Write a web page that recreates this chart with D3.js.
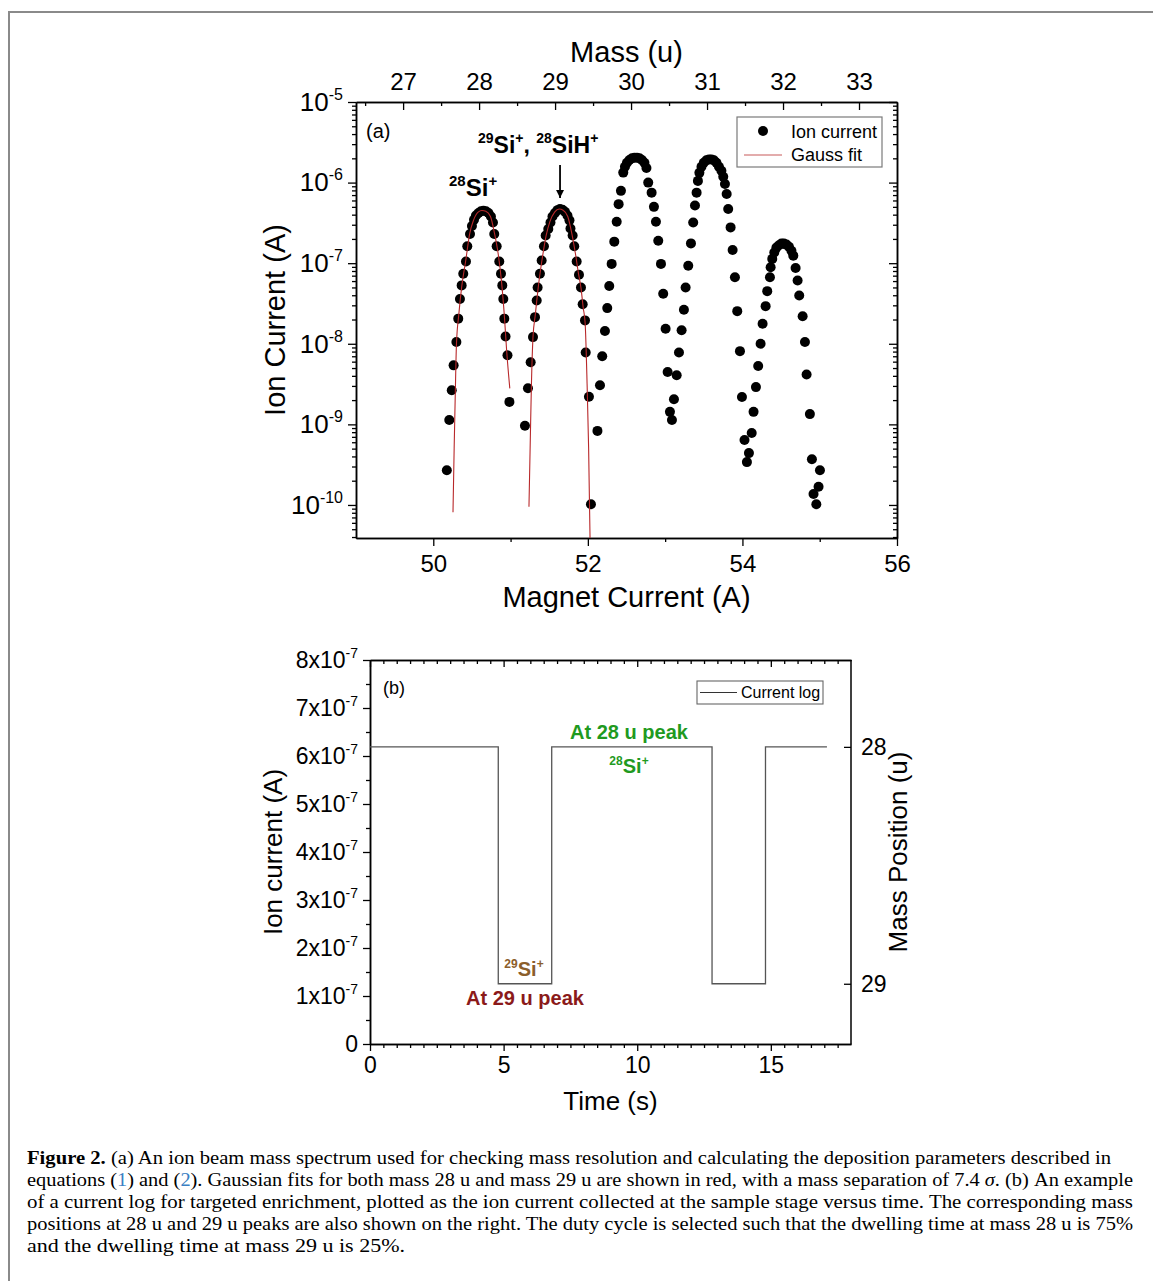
<!DOCTYPE html>
<html>
<head>
<meta charset="utf-8">
<script src="https://cdn.jsdelivr.net/npm/d3@7"></script>
<style>
body { margin: 0; background: #fff; }
svg text { font-family: "Liberation Sans", Arial, sans-serif; fill: #000; }
</style>
</head>
<body>
<div id="fig"></div>
<script>
// ---- panel (a) data: [magnet current (A), ion current (A)] ----
var peak28Si = [
  [50.175,2.7e-10],[50.207,1.13e-9],[50.239,2.65e-9],[50.263,5.4e-9],[50.299,1.05e-8],[50.323,2.05e-8],
  [50.345,3.6e-8],[50.367,5.3e-8],[50.388,7.4e-8],[50.423,1.05e-7],[50.44,1.62e-7],[50.475,2.3e-7],
  [50.50,2.9e-7],[50.527,3.45e-7],[50.552,3.9e-7],[50.585,4.2e-7],[50.617,4.4e-7],[50.649,4.48e-7],
  [50.682,4.4e-7],[50.714,4.2e-7],[50.746,3.8e-7],[50.772,3.2e-7],
  [50.789,2.3e-7],[50.82,1.62e-7],[50.854,1.05e-7],[50.876,7.4e-8],[50.893,5.3e-8],[50.906,3.6e-8],
  [50.919,2.05e-8],[50.935,1.23e-8],[50.96,7.2e-9],[50.985,1.9e-9]
];
var peak29Si = [
  [51.186,9.6e-10],[51.225,2.8e-9],[51.26,5.9e-9],[51.29,1.21e-8],[51.316,2.14e-8],[51.338,3.44e-8],
  [51.35,5.0e-8],[51.38,7.4e-8],[51.402,1.08e-7],[51.432,1.62e-7],[51.454,2.2e-7],[51.488,2.66e-7],
  [51.516,3.2e-7],[51.542,3.8e-7],[51.574,4.2e-7],[51.607,4.55e-7],[51.639,4.7e-7],[51.672,4.6e-7],
  [51.704,4.35e-7],[51.736,3.9e-7],[51.762,3.4e-7],
  [51.775,2.7e-7],[51.803,2.2e-7],[51.824,1.62e-7],[51.855,1.05e-7],[51.885,7.2e-8],[51.911,5.0e-8],
  [51.933,3.1e-8],[51.963,1.95e-8],[51.972,7.8e-9],[52.014,2.2e-9],[52.04,1.02e-10]
];
var peak30 = [
  [52.124,8.3e-10],[52.157,3.05e-9],[52.186,7.0e-9],[52.221,1.44e-8],[52.251,2.77e-8],[52.277,5.2e-8],
  [52.308,9.8e-8],[52.342,1.85e-7],[52.373,3.27e-7],[52.398,5.4e-7],[52.428,7.9e-7],[52.458,1.33e-6],
  [52.48,1.57e-6],[52.506,1.76e-6],[52.538,1.91e-6],[52.571,2.0e-6],[52.603,2.03e-6],[52.636,2.03e-6],
  [52.668,2.0e-6],[52.70,1.91e-6],[52.732,1.76e-6],[52.758,1.52e-6],
  [52.781,1.0e-6],[52.825,7.5e-7],[52.855,5.0e-7],[52.881,3.27e-7],[52.911,1.9e-7],[52.946,9.8e-8],
  [52.975,4.17e-8],[53.006,1.54e-8],[53.032,4.47e-9],[53.062,1.43e-9],[53.088,1.13e-9]
];
var peak31 = [
  [53.114,2.05e-9],[53.149,4.07e-9],[53.179,7.8e-9],[53.213,1.47e-8],[53.243,2.64e-8],[53.265,5.0e-8],
  [53.299,9.3e-8],[53.334,1.76e-7],[53.363,3.2e-7],[53.386,5.2e-7],[53.407,7.5e-7],[53.424,1.05e-6],
  [53.443,1.32e-6],[53.47,1.57e-6],[53.50,1.76e-6],[53.534,1.89e-6],[53.567,1.94e-6],[53.599,1.94e-6],
  [53.631,1.89e-6],[53.664,1.76e-6],[53.696,1.57e-6],[53.728,1.4e-6],
  [53.752,1.18e-6],[53.774,9.6e-7],[53.796,7.2e-7],[53.816,4.7e-7],[53.847,2.78e-7],[53.873,1.46e-7],
  [53.903,6.7e-8],[53.933,2.54e-8],[53.968,8.1e-9],[53.994,2.19e-9],[54.027,6.4e-10],[54.058,3.4e-10]
];
var peak32 = [
  [54.084,4.4e-10],[54.12,7.8e-10],[54.144,1.43e-9],[54.175,2.9e-9],[54.204,5.3e-9],[54.235,1.0e-8],
  [54.261,1.77e-8],[54.30,2.93e-8],[54.321,4.5e-8],[54.356,6.7e-8],[54.365,8.9e-8],[54.386,1.13e-7],
  [54.412,1.36e-7],[54.44,1.56e-7],[54.473,1.67e-7],[54.505,1.75e-7],[54.537,1.75e-7],[54.57,1.7e-7],
  [54.602,1.6e-7],[54.634,1.43e-7],
  [54.658,1.24e-7],[54.688,8.7e-8],[54.714,6.1e-8],[54.735,3.97e-8],[54.779,2.2e-8],[54.809,1.05e-8],
  [54.83,4.15e-9],[54.873,1.34e-9],[54.899,3.7e-10],[55.003,2.7e-10],[54.985,1.68e-10],[54.92,1.37e-10],
  [54.956,1.02e-10]
];
// Gauss fit curves
var fit28 = [
  [50.255,8.1e-11],[50.27,5e-10],[50.285,2.5e-9],[50.30,1.0e-8],[50.33,2.3e-8],[50.37,5.3e-8],
  [50.42,1.08e-7],[50.47,2.3e-7],[50.52,3.4e-7],[50.58,4.3e-7],[50.63,4.5e-7],[50.68,4.4e-7],
  [50.74,3.8e-7],[50.79,2.4e-7],[50.84,1.3e-7],[50.88,6.3e-8],[50.92,2.2e-8],[50.95,8e-9],[50.99,2.8e-9]
];
var fit29 = [
  [51.238,9.5e-11],[51.255,6.3e-10],[51.27,3.2e-9],[51.29,1.2e-8],[51.32,2.3e-8],[51.36,5.2e-8],
  [51.41,1.15e-7],[51.46,2.2e-7],[51.51,3.3e-7],[51.57,4.3e-7],[51.63,4.7e-7],[51.68,4.55e-7],
  [51.74,3.8e-7],[51.79,2.4e-7],[51.84,1.3e-7],[51.88,7.3e-8],[51.91,5e-8],[51.94,2.8e-8],
  [51.965,1.8e-8],[51.99,3.2e-9],[52.01,5e-10],[52.03,3e-11]
];
var massTicks = [27, 28, 29, 30, 31, 32, 33];
var massMinor = [26.5, 27.5, 28.5, 29.5, 30.5, 31.5, 32.5];
var currentTicks = [50, 52, 54, 56];
var currentMinor = [51, 53, 55];
var decades = [1e-10, 1e-9, 1e-8, 1e-7, 1e-6, 1e-5];
var decadeExp = ["-10", "-9", "-8", "-7", "-6", "-5"];

// ---- panel (b) data ----
var logTime = [0, 4.8, 6.8, 12.8, 14.8, 17.1];
var logCurrent = [6.19e-7, 1.255e-7, 6.19e-7, 1.255e-7, 6.19e-7, 6.19e-7];
var ionTicks = [0, 1e-7, 2e-7, 3e-7, 4e-7, 5e-7, 6e-7, 7e-7, 8e-7];
var ionTickMant = ["0", "1", "2", "3", "4", "5", "6", "7", "8"];
var ionMinor = [0.5e-7, 1.5e-7, 2.5e-7, 3.5e-7, 4.5e-7, 5.5e-7, 6.5e-7, 7.5e-7];
var timeTicks = [0, 5, 10, 15];
var timeMinor = [0.5,1,1.5,2,2.5,3,3.5,4,4.5,5.5,6,6.5,7,7.5,8,8.5,9,9.5,10.5,11,11.5,12,12.5,13,13.5,14,14.5,15.5,16,16.5,17,17.5];
var massLevels = [28, 29];

var W = 1153, H = 1281;
var svg = d3.select("#fig").append("svg").attr("width", W).attr("height", H);

// page frame
svg.append("path").attr("d", "M9," + H + "V12H" + W)
  .attr("fill", "none").attr("stroke", "#8a8a8a").attr("stroke-width", 2);

// rich text helper: parts = [[text, isSup], ...]
function setRich(t, parts, size) {
  t.text(null);
  var up = false;
  parts.forEach(function(p) {
    var s = t.append("tspan").text(p[0]);
    if (p[1]) {
      s.attr("font-size", Math.round(size * 0.62));
      if (!up) { s.attr("dy", -size * 0.42); up = true; }
    } else {
      s.attr("font-size", size);
      if (up) { s.attr("dy", size * 0.42); up = false; }
    }
  });
  return t;
}
function rich(parent, x, y, size, parts, anchor) {
  var t = parent.append("text").attr("x", x).attr("y", y)
    .attr("font-size", size).attr("text-anchor", anchor || "start");
  return setRich(t, parts, size);
}
function styleAxis(g, size) {
  g.attr("font-family", "Liberation Sans, Arial, sans-serif").attr("font-size", size);
  g.select(".domain").attr("stroke", "#000").attr("stroke-width", 1.5);
  g.selectAll(".tick line").attr("stroke", "#000").attr("stroke-width", 1.3);
  g.selectAll(".tick text").attr("fill", "#000");
  return g;
}

// ================= panel (a) =================
var a = {left: 356, right: 897, top: 102, bottom: 538};
var xA = d3.scaleLinear().domain([49, 56]).range([a.left, a.right]);
var yA = d3.scaleLog().domain([Math.pow(10, -10.41), 1e-5]).range([a.bottom, a.top]);
var mA = d3.scaleLinear().domain([26.38, 33.5]).range([a.left, a.right]);
var minorLog = yA.ticks().filter(function(d) { return decades.indexOf(d) < 0 && Math.abs(Math.log10(d) % 1) > 1e-6; });

svg.append("clipPath").attr("id", "clipA").append("rect")
  .attr("x", a.left).attr("y", a.top).attr("width", a.right - a.left).attr("height", a.bottom - a.top);

// axes
var gAl = svg.append("g").attr("transform", "translate(" + a.left + ",0)")
  .call(d3.axisLeft(yA).tickValues(decades).tickSizeInner(8).tickSizeOuter(0).tickPadding(5).tickFormat(""));
styleAxis(gAl, 26);
gAl.selectAll(".tick text").each(function(d, i) { setRich(d3.select(this), [["10", 0], [decadeExp[i], 1]], 26); });
styleAxis(svg.append("g").attr("transform", "translate(" + a.left + ",0)")
  .call(d3.axisLeft(yA).tickValues(minorLog).tickSizeInner(4).tickSizeOuter(0).tickFormat("")), 24);
styleAxis(svg.append("g").attr("transform", "translate(" + a.right + ",0)")
  .call(d3.axisRight(yA).tickValues(decades).tickSizeInner(-8).tickSizeOuter(0).tickFormat("")), 24);
styleAxis(svg.append("g").attr("transform", "translate(" + a.right + ",0)")
  .call(d3.axisRight(yA).tickValues(minorLog).tickSizeInner(-4).tickSizeOuter(0).tickFormat("")), 24);
styleAxis(svg.append("g").attr("transform", "translate(0," + a.bottom + ")")
  .call(d3.axisBottom(xA).tickValues(currentTicks).tickSizeInner(8).tickSizeOuter(0).tickPadding(9).tickFormat(d3.format("d"))), 24);
styleAxis(svg.append("g").attr("transform", "translate(0," + a.bottom + ")")
  .call(d3.axisBottom(xA).tickValues(currentMinor).tickSizeInner(4).tickSizeOuter(0).tickFormat("")), 24);
styleAxis(svg.append("g").attr("transform", "translate(0," + a.top + ")")
  .call(d3.axisTop(mA).tickValues(massTicks).tickSizeInner(-8).tickSizeOuter(0).tickPadding(12).tickFormat(d3.format("d"))), 24);
styleAxis(svg.append("g").attr("transform", "translate(0," + a.top + ")")
  .call(d3.axisTop(mA).tickValues(massMinor).tickSizeInner(-4).tickSizeOuter(0).tickFormat("")), 24);

// axis titles
svg.append("text").attr("x", (a.left + a.right) / 2).attr("y", 62).attr("text-anchor", "middle")
  .attr("font-size", 29).text("Mass (u)");
svg.append("text").attr("x", (a.left + a.right) / 2).attr("y", 607).attr("text-anchor", "middle")
  .attr("font-size", 29).text("Magnet Current (A)");
svg.append("text").attr("transform", "translate(285," + (a.top + a.bottom) / 2 + ") rotate(-90)")
  .attr("text-anchor", "middle").attr("font-size", 29).text("Ion Current (A)");

// data points
var plotA = svg.append("g").attr("clip-path", "url(#clipA)");
[peak28Si, peak29Si, peak30, peak31, peak32].forEach(function(pk) {
  plotA.selectAll(null).data(pk).enter().append("circle")
    .attr("cx", function(d) { return xA(d[0]); })
    .attr("cy", function(d) { return yA(d[1]); })
    .attr("r", 5).attr("fill", "#000");
});
var fitLine = d3.line().curve(d3.curveMonotoneX)
  .x(function(d) { return xA(d[0]); }).y(function(d) { return yA(d[1]); });
[fit28, fit29].forEach(function(f) {
  plotA.append("path").attr("d", fitLine(f)).attr("fill", "none")
    .attr("stroke", "#b8282a").attr("stroke-width", 1.1);
});

// annotations
svg.append("text").attr("x", 366).attr("y", 138).attr("font-size", 20).text("(a)");
var bold = svg.append("g").attr("font-weight", "bold");
rich(bold, 478, 153, 23, [["29", 1], ["Si", 0], ["+", 1], [", ", 0], ["28", 1], ["SiH", 0], ["+", 1]]);
rich(bold, 449, 196, 24, [["28", 1], ["Si", 0], ["+", 1]]);
svg.append("defs").append("marker").attr("id", "arrowA").attr("viewBox", "0 0 10 10")
  .attr("refX", 10).attr("refY", 5).attr("markerWidth", 8).attr("markerHeight", 8)
  .attr("markerUnits", "userSpaceOnUse").attr("orient", "auto")
  .append("path").attr("d", "M0,0L10,5L0,10z").attr("fill", "#000");
svg.append("line").attr("x1", xA(51.64)).attr("x2", xA(51.64)).attr("y1", 165).attr("y2", 198)
  .attr("stroke", "#000").attr("stroke-width", 1.8).attr("marker-end", "url(#arrowA)");

// legend (a)
var lgA = svg.append("g");
lgA.append("rect").attr("x", 737).attr("y", 117).attr("width", 145).attr("height", 50)
  .attr("fill", "#fff").attr("stroke", "#7a7a7a").attr("stroke-width", 1.2);
lgA.append("circle").attr("cx", 763).attr("cy", 131).attr("r", 5).attr("fill", "#000");
lgA.append("text").attr("x", 791).attr("y", 138).attr("font-size", 18).text("Ion current");
lgA.append("line").attr("x1", 744).attr("x2", 782).attr("y1", 155).attr("y2", 155)
  .attr("stroke", "#c85a5a").attr("stroke-width", 1.1);
lgA.append("text").attr("x", 791).attr("y", 161).attr("font-size", 18).text("Gauss fit");

// ================= panel (b) =================
var b = {left: 370, right: 851, top: 660, bottom: 1044};
var xB = d3.scaleLinear().domain([0, 18]).range([b.left, b.right]);
var yB = d3.scaleLinear().domain([0, 8e-7]).range([b.bottom, b.top]);
var mB = d3.scaleLinear().domain(massLevels).range([yB(logCurrent[0]), yB(logCurrent[1])]);

var gBl = styleAxis(svg.append("g").attr("transform", "translate(" + b.left + ",0)")
  .call(d3.axisLeft(yB).tickValues(ionTicks).tickSizeInner(7).tickSizeOuter(0).tickPadding(5).tickFormat("")), 23);
gBl.selectAll(".tick text").each(function(d, i) {
  if (i === 0) setRich(d3.select(this), [["0", 0]], 23);
  else setRich(d3.select(this), [[ionTickMant[i] + "x10", 0], ["-7", 1]], 23);
});
styleAxis(svg.append("g").attr("transform", "translate(" + b.left + ",0)")
  .call(d3.axisLeft(yB).tickValues(ionMinor).tickSizeInner(4).tickSizeOuter(0).tickFormat("")), 22);
styleAxis(svg.append("g").attr("transform", "translate(0," + b.bottom + ")")
  .call(d3.axisBottom(xB).tickValues(timeTicks).tickSizeInner(7).tickSizeOuter(0).tickPadding(6).tickFormat(d3.format("d"))), 23);
styleAxis(svg.append("g").attr("transform", "translate(0," + b.bottom + ")")
  .call(d3.axisBottom(xB).tickValues(timeMinor).tickSizeInner(4).tickSizeOuter(0).tickFormat("")), 22);
styleAxis(svg.append("g").attr("transform", "translate(0," + b.top + ")")
  .call(d3.axisTop(xB).tickValues(timeTicks).tickSizeInner(-7).tickSizeOuter(0).tickFormat("")), 22);
styleAxis(svg.append("g").attr("transform", "translate(0," + b.top + ")")
  .call(d3.axisTop(xB).tickValues(timeMinor).tickSizeInner(-4).tickSizeOuter(0).tickFormat("")), 22);
var gBr = styleAxis(svg.append("g").attr("transform", "translate(" + b.right + ",0)")
  .call(d3.axisRight(mB).tickValues(massLevels).tickSizeInner(-7).tickSizeOuter(0).tickPadding(10).tickFormat(d3.format("d"))), 23);
// right axis line spans whole plot height
gBr.select(".domain").attr("d", "M0," + b.top + "V" + b.bottom);

svg.append("text").attr("x", (b.left + b.right) / 2).attr("y", 1110).attr("text-anchor", "middle")
  .attr("font-size", 26).text("Time (s)");
svg.append("text").attr("transform", "translate(282," + (b.top + b.bottom) / 2 + ") rotate(-90)")
  .attr("text-anchor", "middle").attr("font-size", 26).text("Ion current (A)");
svg.append("text").attr("transform", "translate(907," + (b.top + b.bottom) / 2 + ") rotate(-90)")
  .attr("text-anchor", "middle").attr("font-size", 26).text("Mass Position (u)");

var stepLine = d3.line().curve(d3.curveStepAfter)
  .x(function(d, i) { return xB(d); }).y(function(d, i) { return yB(logCurrent[i]); });
svg.append("path").attr("d", stepLine(logTime)).attr("fill", "none")
  .attr("stroke", "#555").attr("stroke-width", 1.3);

svg.append("text").attr("x", 383).attr("y", 694).attr("font-size", 18).text("(b)");
var lgB = svg.append("g");
lgB.append("rect").attr("x", 697).attr("y", 681).attr("width", 126).attr("height", 23)
  .attr("fill", "#fff").attr("stroke", "#666").attr("stroke-width", 1.1);
lgB.append("line").attr("x1", 700).attr("x2", 737).attr("y1", 692.5).attr("y2", 692.5)
  .attr("stroke", "#333").attr("stroke-width", 1.1);
lgB.append("text").attr("x", 741).attr("y", 698).attr("font-size", 16).text("Current log");

var bb = svg.append("g").attr("font-weight", "bold");
bb.append("text").attr("x", 629).attr("y", 739).attr("text-anchor", "middle").attr("font-size", 20)
  .style("fill", "#1f9a1f").text("At 28 u peak");
rich(bb, 629, 773, 20, [["28", 1], ["Si", 0], ["+", 1]], "middle").style("fill", "#1f9a1f");
rich(bb, 524, 976, 20, [["29", 1], ["Si", 0], ["+", 1]], "middle").style("fill", "#8b5e2b");
bb.append("text").attr("x", 525).attr("y", 1005).attr("text-anchor", "middle").attr("font-size", 20)
  .style("fill", "#8b1a1a").text("At 29 u peak");

// ================= caption =================
var cap = svg.append("g").attr("font-size", 18);
function capLine(y, len) {
  return cap.append("text").attr("x", 27).attr("y", y)
    .attr("textLength", len).attr("lengthAdjust", "spacingAndGlyphs")
    .style("font-family", "'Liberation Serif', 'DejaVu Serif', serif");
}
var l1 = capLine(1164, 1084);
l1.append("tspan").attr("font-weight", "bold").text("Figure 2. ");
l1.append("tspan").text("(a) An ion beam mass spectrum used for checking mass resolution and calculating the deposition parameters described in");
var l2 = capLine(1186, 1106);
l2.append("tspan").text("equations (");
l2.append("tspan").style("fill", "#3a80c3").text("1");
l2.append("tspan").text(") and (");
l2.append("tspan").style("fill", "#3a80c3").text("2");
l2.append("tspan").text("). Gaussian fits for both mass 28 u and mass 29 u are shown in red, with a mass separation of 7.4 ");
l2.append("tspan").attr("font-style", "italic").text("σ");
l2.append("tspan").text(". (b) An example");
capLine(1208, 1106).text("of a current log for targeted enrichment, plotted as the ion current collected at the sample stage versus time. The corresponding mass");
capLine(1230, 1106).text("positions at 28 u and 29 u peaks are also shown on the right. The duty cycle is selected such that the dwelling time at mass 28 u is 75%");
capLine(1252, 378).text("and the dwelling time at mass 29 u is 25%.");
</script>
</body>
</html>
